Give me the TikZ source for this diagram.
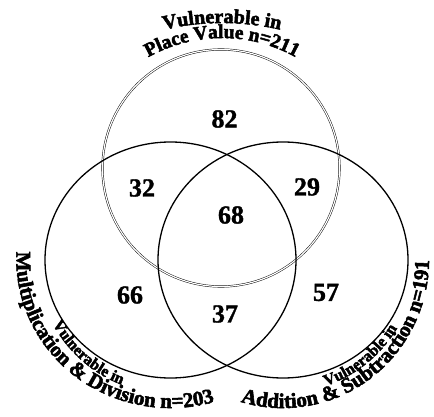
\documentclass[tikz,border=0pt]{standalone}
\usepackage{fontspec}
\setmainfont{Liberation Serif}[BoldFeatures={FakeBold=1.2}]
\newfontfamily\labfam{Liberation Serif}[BoldFeatures={FakeBold=2.6}]
\usetikzlibrary{decorations.text}
\newcommand\numfont{\bfseries\fontsize{26}{26}\selectfont}
\newcommand\bigfont{\labfam\bfseries\fontsize{21}{21}\selectfont}
\newcommand\topfont{\labfam\bfseries\fontsize{20}{20}\selectfont}
\newcommand\midfont{\labfam\bfseries\fontsize{19.5}{19.5}\selectfont}
\newcommand\smallfont{\labfam\bfseries\fontsize{16}{16}\selectfont}

\begin{document}
\begin{tikzpicture}[
    x=1pt, y=1pt,
    count/.style={font=\numfont, inner sep=0pt},
    setline/.style={draw, line width=1.3pt},
    dblline/.style={draw, double, double distance=1.2pt, line width=0.45pt},
    arclabel/.style={decorate, decoration={text along path, text align=center, text={#1}}}
]
\useasboundingbox (0,0) rectangle (434,416);
\coordinate (pvc) at (221,248);
\coordinate (mdc) at (170.5,156);
\coordinate (asc) at (283,156);
\coordinate (toptop) at (222,136);
\coordinate (topbot) at (222,227);
\path[dblline] (pvc) circle[radius=118.5pt];
\path[setline] (mdc) ellipse[x radius=125.5pt, y radius=118pt];
\path[setline] (asc) ellipse[x radius=125pt, y radius=118pt];
\node[count] (pv) at (224.5,297) {82};
\node[count] (pvmd) at (142,228) {32};
\node[count] (pvas) at (307,229) {29};
\node[count] (all) at (231,201) {68};
\node[count] (md) at (130,121) {66};
\node[count] (as) at (326,123.5) {57};
\node[count] (mdas) at (225,102) {37};
\path[arclabel={|\topfont|Vulnerable in}]
    ([shift={(112:257pt)}]toptop) arc[start angle=112, end angle=68, radius=257pt];
\path[arclabel={|\midfont|Place Value n=211}]
    ([shift={(128:151pt)}]topbot) arc[start angle=128, end angle=52, radius=151pt];
\path[arclabel={|\bigfont|Multiplication {\&} Division n=203}]
    ([shift={(160:154pt and 148pt)}]mdc) arc[start angle=160, end angle=303, x radius=154pt, y radius=148pt];
\path[arclabel={|\smallfont|Vulnerable in}]
    ([shift={(195:134pt)}]mdc) arc[start angle=195, end angle=262, radius=134pt];
\path[arclabel={|\smallfont|Vulnerable in}]
    ([shift={(276:133pt)}]asc) arc[start angle=276, end angle=342, radius=133pt];
\path[arclabel={|\bigfont|Addition {\&} Subtraction n=191}]
    ([shift={(240:146pt and 148pt)}]asc) arc[start angle=240, end angle=373, x radius=146pt, y radius=148pt];
\end{tikzpicture}
\end{document}
